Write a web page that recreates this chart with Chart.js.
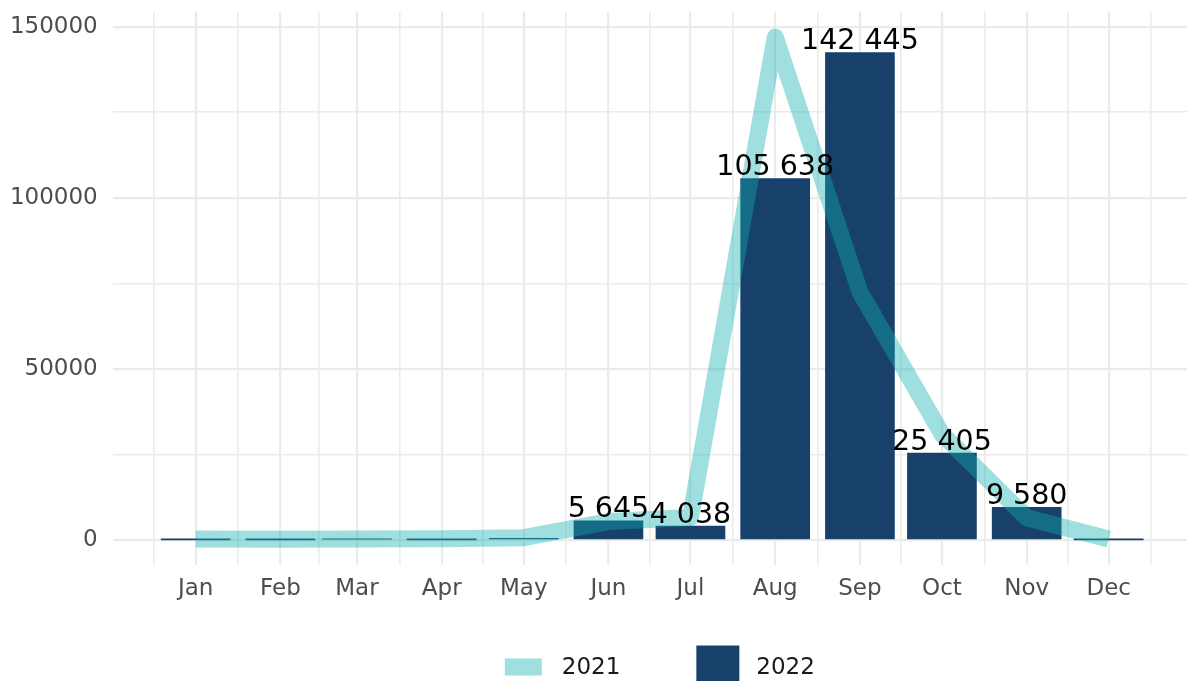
<!DOCTYPE html>
<html>
<head>
<meta charset="utf-8">
<script src="https://cdn.jsdelivr.net/npm/chart.js@4.4.1/dist/chart.umd.min.js"></script>
<style>
  html, body { margin: 0; padding: 0; background: #fff; overflow: hidden; }
</style>
</head>
<body>
<canvas id="chart" width="1187" height="681"></canvas>
<script>
// ========== DATA ==========
const months = ['Jan', 'Feb', 'Mar', 'Apr', 'May', 'Jun', 'Jul', 'Aug', 'Sep', 'Oct', 'Nov', 'Dec'];
const monthDay = [0, 31, 59, 90, 120, 151, 181, 212, 243, 273, 304, 334]; // day of year of the 1st
const cases2021 = [300, 200, 300, 400, 700, 5400, 6600, 147000, 72500, 31000, 6500, 300];
const cases2022 = [40, 40, 250, 40, 500, 5645, 4038, 105638, 142445, 25405, 9580, 30];
const yTicks = [0, 25000, 50000, 75000, 100000, 125000, 150000];
const yLabelled = [0, 50000, 100000, 150000];

// ========== STYLE ==========
const FONT = 'DejaVu Sans';
const GRID = '#EBEBEB';
const LINE_COLOR = 'rgba(18,174,178,0.4)';
const BAR_COLOR = '#17406A';

// minor breaks sit half way between month starts
const edges = [-31, ...monthDay, 365];
const minorDay = edges.slice(1).map((d, i) => (edges[i] + d) / 2);

const fmt = v => String(v).replace(/\B(?=(\d{3})+(?!\d))/g, ' ');

// value labels above the 2022 bars
const barLabels = {
  id: 'barLabels',
  afterDatasetsDraw(chart) {
    const ctx = chart.ctx;
    const meta = chart.getDatasetMeta(1);
    ctx.save();
    ctx.font = `28.5px "${FONT}"`;
    ctx.fillStyle = '#000';
    ctx.textAlign = 'center';
    ctx.textBaseline = 'alphabetic';
    meta.data.forEach((bar, i) => {
      if (cases2022[i] < 1000) return;
      ctx.fillText(fmt(cases2022[i]), bar.x, bar.y - 3.5);
    });
    ctx.restore();
  }
};

// ggplot style legend at the bottom
const bottomLegend = {
  id: 'bottomLegend',
  afterDraw(chart) {
    const ctx = chart.ctx;
    const ds = chart.data.datasets;
    const cy = 667;
    ctx.save();
    ctx.font = `23px "${FONT}"`;
    ctx.textBaseline = 'middle';
    const w1 = ctx.measureText(ds[0].label).width;
    const w2 = ctx.measureText(ds[1].label).width;
    const total = 37 + 20 + w1 + 76 + 43 + 17 + w2;
    let x = (chart.chartArea.left + chart.chartArea.right) / 2 + 10 - total / 2;
    ctx.fillStyle = LINE_COLOR;
    ctx.fillRect(x, cy - 8.5, 37, 17);
    x += 37 + 20;
    ctx.fillStyle = '#1a1a1a';
    ctx.fillText(ds[0].label, x, cy + 1);
    x += w1 + 76;
    ctx.fillStyle = BAR_COLOR;
    ctx.fillRect(x, cy - 21.5, 43, 43);
    x += 43 + 17;
    ctx.fillStyle = '#1a1a1a';
    ctx.fillText(ds[1].label, x, cy + 1);
    ctx.restore();
  }
};

// ========== CHART ==========
new Chart(document.getElementById('chart'), {
  type: 'bar',
  data: {
    datasets: [
      {
        type: 'line', label: '2021', order: 0,
        data: monthDay.map((d, i) => ({ x: d, y: cases2021[i] })),
        borderColor: LINE_COLOR, borderWidth: 17, borderJoinStyle: 'round', borderCapStyle: 'butt',
        pointRadius: 0, tension: 0, fill: false
      },
      {
        type: 'bar', label: '2022', order: 1,
        data: monthDay.map((d, i) => ({ x: d, y: cases2022[i] })),
        backgroundColor: BAR_COLOR, barThickness: 69
      }
    ]
  },
  options: {
    responsive: false,
    animation: false,
    events: [],
    layout: { padding: { top: 11.7, right: 0, bottom: 60, left: 0 } },
    plugins: { legend: { display: false }, tooltip: { enabled: false } },
    scales: {
      x: {
        type: 'linear', min: -30.36, max: 362.65, offset: false,
        border: { display: false },
        grid: { color: GRID, offset: false, drawTicks: false, lineWidth: c => (c.tick && c.tick.major ? 2.2 : 1.6) },
        ticks: {
          autoSkip: false, maxRotation: 0, padding: 10, color: '#4D4D4D',
          font: { family: FONT, size: 23 },
          callback: v => { const i = monthDay.indexOf(v); return i >= 0 ? months[i] : ''; }
        },
        afterBuildTicks: s => {
          s.ticks = [...monthDay.map(v => ({ value: v, major: true })), ...minorDay.map(v => ({ value: v }))]
            .sort((a, b) => a.value - b.value);
        },
        afterFit: s => { s.height = 56; s.paddingLeft = 0; s.paddingRight = 0; }
      },
      y: {
        min: -7300, max: 154400,
        border: { display: false },
        grid: { color: GRID, drawTicks: false, lineWidth: c => (c.tick && c.tick.major ? 2.2 : 1.6) },
        ticks: {
          padding: 15, color: '#4D4D4D',
          font: { family: FONT, size: 23 },
          callback: v => (yLabelled.includes(v) ? String(v) : '')
        },
        afterBuildTicks: s => { s.ticks = yTicks.map(v => ({ value: v, major: yLabelled.includes(v) })); },
        afterFit: s => { s.width = 112.7; s.paddingTop = 0; s.paddingBottom = 0; }
      }
    }
  },
  plugins: [barLabels, bottomLegend]
});
</script>
</body>
</html>
